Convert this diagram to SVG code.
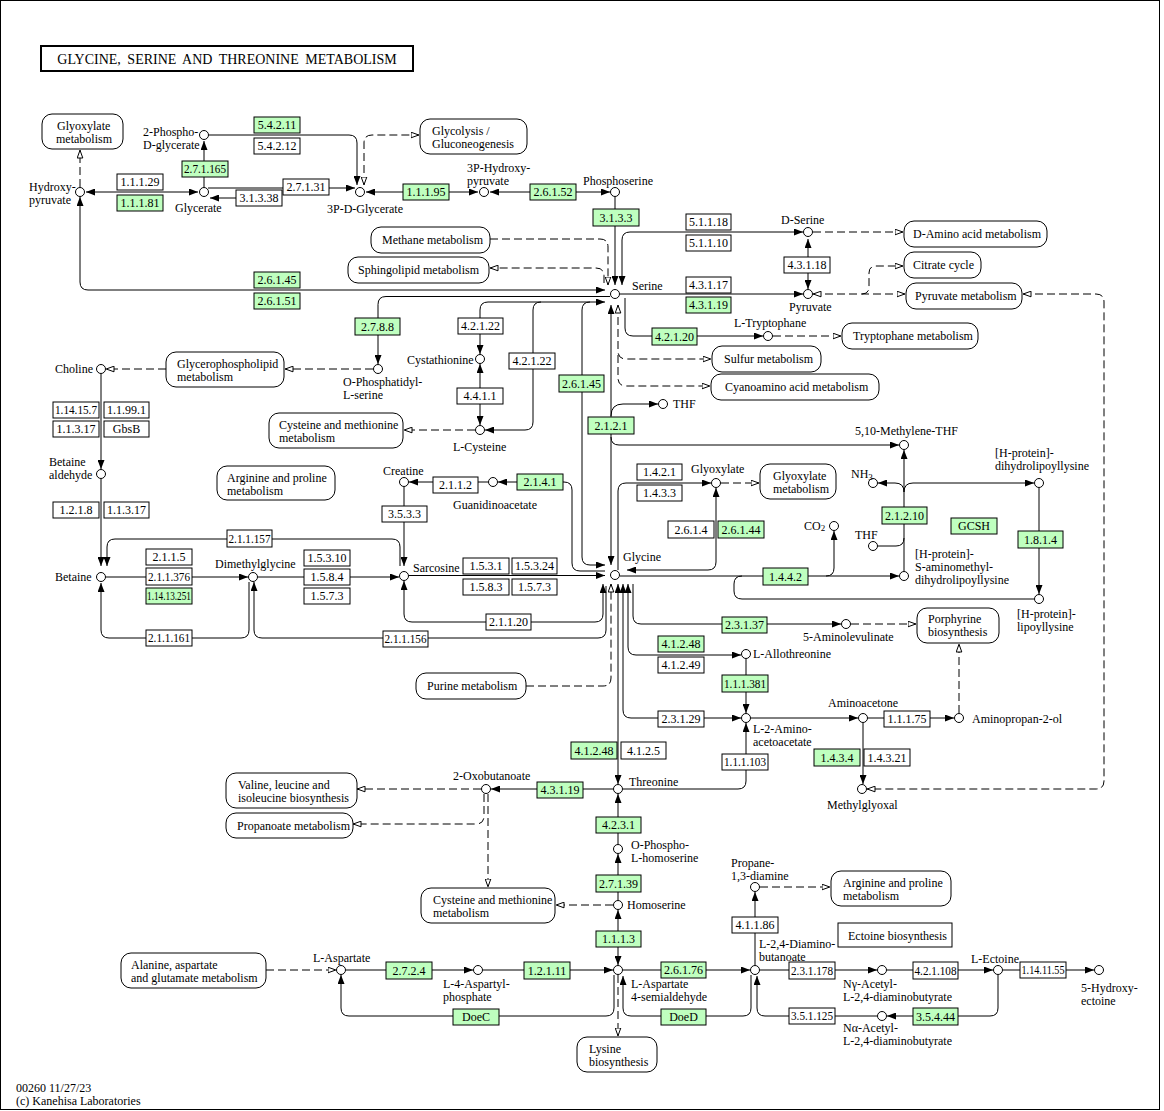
<svg xmlns="http://www.w3.org/2000/svg" width="1164" height="1111" viewBox="0 0 1164 1111">
<defs>
<style>
text{font-family:"Liberation Serif","Times New Roman",serif;font-size:12px;fill:#000}
.ttl{font-size:14px;word-spacing:3px}
.l{fill:none;stroke:#000;stroke-width:1}
.d{fill:none;stroke:#000;stroke-width:1;stroke-dasharray:8 4}
.ew{fill:#fff;stroke:#000;stroke-width:1}
.eg{fill:#bfffbf;stroke:#000;stroke-width:1}
.m{fill:#fff;stroke:#000;stroke-width:1}
.c{fill:#fff;stroke:#000;stroke-width:1}
.et{text-anchor:middle}
.sub{font-size:9px}
</style>
<marker id="af" viewBox="0 0 9 7" refX="9" refY="3.5" markerWidth="9" markerHeight="7" markerUnits="userSpaceOnUse" orient="auto-start-reverse"><path d="M0,0L9,3.5L0,7z" fill="#000" stroke="none"/></marker>
<marker id="ah" viewBox="0 0 9 7" refX="8.5" refY="3.5" markerWidth="9" markerHeight="7" markerUnits="userSpaceOnUse" orient="auto-start-reverse"><path d="M0.5,0.7L8.3,3.5L0.5,6.3z" fill="#fff" stroke="#000" stroke-width="1" stroke-dasharray="none"/></marker>
</defs>
<rect x="0" y="0" width="1164" height="1111" fill="#fff"/>
<rect x="0.5" y="0.5" width="1159" height="1109" fill="none" stroke="#000"/>
<g id="title"><rect x="41" y="46" width="372" height="25" fill="#fff" stroke="#000" stroke-width="2"/><text class="ttl" x="227" y="64" text-anchor="middle">GLYCINE, SERINE AND THREONINE METABOLISM</text></g>

<g id="connectors">
<path class="l" d="M86,192H198" marker-start="url(#af)" marker-end="url(#af)"/>
<path class="d" d="M80,187V150" marker-end="url(#ah)"/>
<path class="l" d="M204,187V141" marker-end="url(#af)"/>
<path class="l" d="M209,135H349Q357,135 357,143V185" marker-end="url(#af)"/>
<path class="d" d="M364,185V143Q364,135 372,135H419" marker-start="url(#ah)" marker-end="url(#ah)"/>
<path class="l" d="M208,188H355" marker-end="url(#af)"/>
<path class="l" d="M282,198H210" marker-end="url(#af)"/>
<path class="l" d="M366,192H478" marker-start="url(#af)" marker-end="url(#af)"/>
<path class="l" d="M490,192H610" marker-start="url(#af)" marker-end="url(#af)"/>
<path class="l" d="M615,197V285" marker-end="url(#af)"/>
<path class="l" d="M622,285V240Q622,232 630,232H803" marker-start="url(#af)" marker-end="url(#af)"/>
<path class="d" d="M813,232H903" marker-end="url(#ah)"/>
<path class="l" d="M808,239V289" marker-start="url(#af)" marker-end="url(#af)"/>
<path class="l" d="M620,294H803" marker-end="url(#af)"/>
<path class="d" d="M813,294H905" marker-start="url(#ah)" marker-end="url(#ah)"/>
<path class="d" d="M862,294Q869,294 869,287V273Q869,266 876,266H903" marker-end="url(#ah)"/>
<path class="d" d="M1023,294H1096Q1104,294 1104,302V781Q1104,789 1096,789H867" marker-start="url(#ah)" marker-end="url(#ah)"/>
<path class="d" d="M490,239H600Q608,239 608,247V285" marker-end="url(#ah)"/>
<path class="d" d="M604,283V276Q604,268 596,268H490" marker-end="url(#ah)"/>
<path class="l" d="M80,197V282Q80,290 88,290H605" marker-start="url(#af)" marker-end="url(#af)"/>
<path class="l" d="M610,296.5H386Q378,296.5 378,304.5V364" marker-end="url(#af)"/>
<path class="d" d="M373,369H285" marker-end="url(#ah)"/>
<path class="d" d="M166,369H106" marker-end="url(#ah)"/>
<path class="l" d="M101,374V469" marker-end="url(#af)"/>
<path class="l" d="M101,479V566" marker-end="url(#af)"/>
<path class="l" d="M400,566V547Q400,539 392,539H115Q107,539 107,547V566" marker-end="url(#af)"/>
<path class="l" d="M106,577H248" marker-end="url(#af)"/>
<path class="l" d="M258,577H399" marker-end="url(#af)"/>
<path class="l" d="M249,582V630Q249,638 241,638H109Q101,638 101,630V583" marker-end="url(#af)"/>
<path class="l" d="M606,586V630Q606,638 598,638H262Q254,638 254,630V582" marker-end="url(#af)"/>
<path class="l" d="M603,584V614Q603,622 595,622H412Q404,622 404,614V581" marker-start="url(#af)" marker-end="url(#af)"/>
<path class="l" d="M404,487V566" marker-end="url(#af)"/>
<path class="l" d="M488,482H409" marker-end="url(#af)"/>
<path class="l" d="M605,571H580Q572,571 572,563V490Q572,482 564,482H498" marker-end="url(#af)"/>
<path class="l" d="M605,302H488Q480,302 480,310V354" marker-start="url(#af)" marker-end="url(#af)"/>
<path class="l" d="M541,302Q533,302 533,310V422Q533,430 525,430H485" marker-end="url(#af)"/>
<path class="l" d="M590,302Q582,302 582,310V557Q582,565 590,565H605" marker-end="url(#af)"/>
<path class="l" d="M480,364V425" marker-start="url(#af)" marker-end="url(#af)"/>
<path class="d" d="M475,430H404" marker-end="url(#ah)"/>
<path class="l" d="M611,305V565" marker-start="url(#af)" marker-end="url(#af)"/>
<path class="l" d="M611,416Q611,404 623,404H658" marker-end="url(#af)"/>
<path class="l" d="M611,437Q611,445 619,445H899" marker-end="url(#af)"/>
<path class="l" d="M625,298V328Q625,336 633,336H763" marker-end="url(#af)"/>
<path class="d" d="M773,336H841" marker-end="url(#ah)"/>
<path class="d" d="M618,305V351Q618,359 626,359H711" marker-start="url(#ah)" marker-end="url(#ah)"/>
<path class="d" d="M618,355V378Q618,386 626,386H710" marker-end="url(#ah)"/>
<path class="l" d="M618,570V491Q618,483 626,483H711" marker-end="url(#af)"/>
<path class="l" d="M716,488V562Q716,570 708,570H627" marker-start="url(#af)" marker-end="url(#af)"/>
<path class="d" d="M721,483H759" marker-end="url(#ah)"/>
<path class="l" d="M620,576H899" marker-end="url(#af)"/>
<path class="l" d="M826,576Q834,576 834,568V531" marker-end="url(#af)"/>
<path class="l" d="M1034,599H742Q734,599 734,591V584Q734,576 742,576"/>
<path class="l" d="M904,571V450" marker-end="url(#af)"/>
<path class="l" d="M904,492Q904,483 895,483H878" marker-end="url(#af)"/>
<path class="l" d="M904,492Q904,483 913,483H1034" marker-end="url(#af)"/>
<path class="l" d="M878,546H896Q904,546 904,538"/>
<path class="l" d="M1039,488V594" marker-end="url(#af)"/>
<path class="l" d="M633,584V616Q633,624 641,624H841" marker-end="url(#af)"/>
<path class="d" d="M851,624H916" marker-end="url(#ah)"/>
<path class="d" d="M959,713V644" marker-end="url(#ah)"/>
<path class="l" d="M628,584V647Q628,655 636,655H741" marker-start="url(#af)" marker-end="url(#af)"/>
<path class="l" d="M623,584V710Q623,718 631,718H741" marker-start="url(#af)" marker-end="url(#af)"/>
<path class="l" d="M618,584V784" marker-start="url(#af)" marker-end="url(#af)"/>
<path class="l" d="M746,659V713" marker-end="url(#af)"/>
<path class="l" d="M623,789H738Q746,789 746,781V723" marker-end="url(#af)"/>
<path class="l" d="M751,718H858" marker-end="url(#af)"/>
<path class="l" d="M868,718H954" marker-end="url(#af)"/>
<path class="l" d="M863,723V784" marker-end="url(#af)"/>
<path class="d" d="M526,686H603Q611,686 611,678V584" marker-end="url(#ah)"/>
<path class="l" d="M409,575.5H605" marker-end="url(#af)"/>
<path class="l" d="M613,789H491" marker-end="url(#af)"/>
<path class="d" d="M481,789H357" marker-end="url(#ah)"/>
<path class="d" d="M484,794V816Q484,824 476,824H353" marker-end="url(#ah)"/>
<path class="d" d="M488,794V887" marker-end="url(#ah)"/>
<path class="l" d="M618,844V794" marker-end="url(#af)"/>
<path class="l" d="M618,900V854" marker-end="url(#af)"/>
<path class="d" d="M613,905H556" marker-end="url(#ah)"/>
<path class="l" d="M618,910V965" marker-start="url(#af)" marker-end="url(#af)"/>
<path class="l" d="M483,970H613" marker-end="url(#af)"/>
<path class="l" d="M346,970H473" marker-end="url(#af)"/>
<path class="d" d="M266,970H336" marker-end="url(#ah)"/>
<path class="l" d="M614,975V1008Q614,1016 606,1016H349Q341,1016 341,1008V975" marker-end="url(#af)"/>
<path class="d" d="M618,975V1036" marker-end="url(#ah)"/>
<path class="l" d="M751,975V1008Q751,1016 743,1016H631Q623,1016 623,1008V976" marker-end="url(#af)"/>
<path class="l" d="M623,970H750" marker-end="url(#af)"/>
<path class="l" d="M877,1016H765Q757,1016 757,1008V976" marker-end="url(#af)"/>
<path class="l" d="M755,965V892" marker-end="url(#af)"/>
<path class="d" d="M760,887H830" marker-end="url(#ah)"/>
<path class="l" d="M760,970H877" marker-end="url(#af)"/>
<path class="l" d="M887,970H993" marker-end="url(#af)"/>
<path class="l" d="M1003,970H1094" marker-end="url(#af)"/>
<path class="l" d="M998,975V1008Q998,1016 990,1016H887" marker-end="url(#af)"/>
</g>

<g id="maps">
<g id="m-glyoxylate1"><rect class="m" x="42" y="114" width="81" height="35" rx="10"/><text x="57" y="130">Glyoxylate<tspan x="56" dy="13.3">metabolism</tspan></text></g>
<g id="m-glycolysis"><rect class="m" x="420" y="119" width="107" height="35" rx="10"/><text x="432" y="135">Glycolysis /<tspan x="432" dy="13.3">Gluconeogenesis</tspan></text></g>
<g id="m-methane"><rect class="m" x="371" y="227" width="119" height="26" rx="10"/><text x="382" y="244">Methane metabolism</text></g>
<g id="m-sphingolipid"><rect class="m" x="348" y="257" width="141" height="26" rx="10"/><text x="358" y="274">Sphingolipid metabolism</text></g>
<g id="m-daminoacid"><rect class="m" x="904" y="221" width="143" height="26" rx="10"/><text x="913" y="238">D-Amino acid metabolism</text></g>
<g id="m-citrate"><rect class="m" x="904" y="252" width="77" height="26" rx="10"/><text x="913" y="269">Citrate cycle</text></g>
<g id="m-pyruvate"><rect class="m" x="906" y="283" width="116" height="26" rx="10"/><text x="915" y="300">Pyruvate metabolism</text></g>
<g id="m-tryptophane"><rect class="m" x="842" y="323" width="136" height="26" rx="10"/><text x="853" y="340">Tryptophane metabolism</text></g>
<g id="m-sulfur"><rect class="m" x="712" y="346" width="109" height="26" rx="10"/><text x="724" y="363">Sulfur metabolism</text></g>
<g id="m-cyanoamino"><rect class="m" x="711" y="374" width="168" height="26" rx="10"/><text x="725" y="391">Cyanoamino acid metabolism</text></g>
<g id="m-glycerophospholipid"><rect class="m" x="166" y="352" width="118" height="35" rx="10"/><text x="177" y="368">Glycerophospholipid<tspan x="177" dy="13.3">metabolism</tspan></text></g>
<g id="m-cysmet1"><rect class="m" x="269" y="413" width="134" height="35" rx="10"/><text x="279" y="429">Cysteine and methionine<tspan x="279" dy="13.3">metabolism</tspan></text></g>
<g id="m-argpro1"><rect class="m" x="217" y="466" width="118" height="34" rx="10"/><text x="227" y="481.5">Arginine and proline<tspan x="227" dy="13.3">metabolism</tspan></text></g>
<g id="m-glyoxylate2"><rect class="m" x="760" y="464" width="76" height="35" rx="10"/><text x="773" y="480">Glyoxylate<tspan x="773" dy="13.3">metabolism</tspan></text></g>
<g id="m-porphyrine"><rect class="m" x="917" y="608" width="82" height="35" rx="10"/><text x="928" y="623">Porphyrine<tspan x="928" dy="13.3">biosynthesis</tspan></text></g>
<g id="m-purine"><rect class="m" x="416" y="673" width="110" height="26" rx="10"/><text x="427" y="690">Purine metabolism</text></g>
<g id="m-valine"><rect class="m" x="226" y="773" width="131" height="35" rx="10"/><text x="238" y="789">Valine, leucine and<tspan x="238" dy="13.3">isoleucine biosynthesis</tspan></text></g>
<g id="m-propanoate"><rect class="m" x="226" y="813" width="127" height="25" rx="10"/><text x="237" y="830">Propanoate metabolism</text></g>
<g id="m-cysmet2"><rect class="m" x="421" y="888" width="134" height="35" rx="10"/><text x="433" y="904">Cysteine and methionine<tspan x="433" dy="13.3">metabolism</tspan></text></g>
<g id="m-argpro2"><rect class="m" x="831" y="871" width="120" height="35" rx="10"/><text x="843" y="887">Arginine and proline<tspan x="843" dy="13.3">metabolism</tspan></text></g>
<g id="m-alanine"><rect class="m" x="121" y="953" width="145" height="35" rx="10"/><text x="131" y="969">Alanine, aspartate<tspan x="131" dy="13.3">and glutamate metabolism</tspan></text></g>
<g id="m-lysine"><rect class="m" x="577" y="1037" width="80" height="35" rx="10"/><text x="589" y="1053">Lysine<tspan x="589" dy="13.3">biosynthesis</tspan></text></g>
<g id="m-ectoine"><rect class="m" x="838" y="923" width="114" height="24"/><text x="848" y="940">Ectoine biosynthesis</text></g>
</g>

<g id="enzymes">
<g><rect class="ew" x="117" y="174" width="46" height="16"/><text class="et" x="140" y="186">1.1.1.29</text></g>
<g><rect class="eg" x="117" y="195" width="46" height="16"/><text class="et" x="140" y="207">1.1.1.81</text></g>
<g><rect class="eg" x="182" y="161" width="46" height="16"/><text class="et" x="205" y="173" textLength="42" lengthAdjust="spacingAndGlyphs">2.7.1.165</text></g>
<g><rect class="eg" x="254" y="117" width="46" height="16"/><text class="et" x="277" y="129">5.4.2.11</text></g>
<g><rect class="ew" x="254" y="138" width="46" height="16"/><text class="et" x="277" y="150">5.4.2.12</text></g>
<g><rect class="ew" x="283" y="179" width="46" height="16"/><text class="et" x="306" y="191">2.7.1.31</text></g>
<g><rect class="ew" x="236" y="190" width="46" height="16"/><text class="et" x="259" y="202">3.1.3.38</text></g>
<g><rect class="eg" x="403" y="184" width="46" height="16"/><text class="et" x="426" y="196">1.1.1.95</text></g>
<g><rect class="eg" x="530" y="184" width="46" height="16"/><text class="et" x="553" y="196">2.6.1.52</text></g>
<g><rect class="eg" x="593" y="209" width="46" height="17"/><text class="et" x="616" y="221.5">3.1.3.3</text></g>
<g><rect class="ew" x="686" y="214" width="45" height="16"/><text class="et" x="708.5" y="226">5.1.1.18</text></g>
<g><rect class="ew" x="686" y="235" width="45" height="16"/><text class="et" x="708.5" y="247">5.1.1.10</text></g>
<g><rect class="ew" x="784" y="257" width="46" height="16"/><text class="et" x="807" y="269">4.3.1.18</text></g>
<g><rect class="ew" x="686" y="277" width="45" height="16"/><text class="et" x="708.5" y="289">4.3.1.17</text></g>
<g><rect class="eg" x="686" y="297" width="45" height="16"/><text class="et" x="708.5" y="309">4.3.1.19</text></g>
<g><rect class="eg" x="254" y="272" width="46" height="16"/><text class="et" x="277" y="284">2.6.1.45</text></g>
<g><rect class="eg" x="254" y="293" width="46" height="16"/><text class="et" x="277" y="305">2.6.1.51</text></g>
<g><rect class="eg" x="355" y="318" width="45" height="17"/><text class="et" x="377.5" y="330.5">2.7.8.8</text></g>
<g><rect class="ew" x="458" y="318" width="45" height="16"/><text class="et" x="480.5" y="330">4.2.1.22</text></g>
<g><rect class="ew" x="509" y="353" width="46" height="16"/><text class="et" x="532" y="365">4.2.1.22</text></g>
<g><rect class="eg" x="652" y="328" width="45" height="17"/><text class="et" x="674.5" y="340.5">4.2.1.20</text></g>
<g><rect class="ew" x="457" y="388" width="46" height="16"/><text class="et" x="480" y="400">4.4.1.1</text></g>
<g><rect class="eg" x="559" y="375" width="45" height="17"/><text class="et" x="581.5" y="387.5">2.6.1.45</text></g>
<g><rect class="eg" x="588" y="417" width="46" height="17"/><text class="et" x="611" y="429.5">2.1.2.1</text></g>
<g><rect class="ew" x="53" y="402" width="46" height="16"/><text class="et" x="76" y="414" textLength="42" lengthAdjust="spacingAndGlyphs">1.14.15.7</text></g>
<g><rect class="ew" x="104" y="402" width="45" height="16"/><text class="et" x="126.5" y="414">1.1.99.1</text></g>
<g><rect class="ew" x="53" y="421" width="46" height="16"/><text class="et" x="76" y="433">1.1.3.17</text></g>
<g><rect class="ew" x="104" y="421" width="45" height="16"/><text class="et" x="126.5" y="433">GbsB</text></g>
<g><rect class="ew" x="53" y="502" width="46" height="16"/><text class="et" x="76" y="514">1.2.1.8</text></g>
<g><rect class="ew" x="104" y="502" width="45" height="16"/><text class="et" x="126.5" y="514">1.1.3.17</text></g>
<g><rect class="ew" x="227" y="530" width="45" height="17"/><text class="et" x="249.5" y="542.5" textLength="42" lengthAdjust="spacingAndGlyphs">2.1.1.157</text></g>
<g><rect class="ew" x="146" y="549" width="46" height="16"/><text class="et" x="169" y="561">2.1.1.5</text></g>
<g><rect class="ew" x="146" y="568" width="46" height="17"/><text class="et" x="169" y="580.5" textLength="42" lengthAdjust="spacingAndGlyphs">2.1.1.376</text></g>
<g><rect class="eg" x="146" y="588" width="46" height="16"/><text class="et" x="169" y="600" textLength="44" lengthAdjust="spacingAndGlyphs">1.14.13.251</text></g>
<g><rect class="ew" x="304" y="550" width="46" height="16"/><text class="et" x="327" y="562">1.5.3.10</text></g>
<g><rect class="ew" x="304" y="569" width="46" height="16"/><text class="et" x="327" y="581">1.5.8.4</text></g>
<g><rect class="ew" x="304" y="588" width="46" height="16"/><text class="et" x="327" y="600">1.5.7.3</text></g>
<g><rect class="ew" x="146" y="630" width="46" height="16"/><text class="et" x="169" y="642" textLength="42" lengthAdjust="spacingAndGlyphs">2.1.1.161</text></g>
<g><rect class="ew" x="383" y="631" width="45" height="16"/><text class="et" x="405.5" y="643" textLength="42" lengthAdjust="spacingAndGlyphs">2.1.1.156</text></g>
<g><rect class="ew" x="486" y="614" width="45" height="16"/><text class="et" x="508.5" y="626">2.1.1.20</text></g>
<g><rect class="ew" x="433" y="477" width="45" height="16"/><text class="et" x="455.5" y="489">2.1.1.2</text></g>
<g><rect class="eg" x="517" y="474" width="46" height="16"/><text class="et" x="540" y="486">2.1.4.1</text></g>
<g><rect class="ew" x="382" y="506" width="45" height="16"/><text class="et" x="404.5" y="518">3.5.3.3</text></g>
<g><rect class="ew" x="463" y="558" width="46" height="16"/><text class="et" x="486" y="570">1.5.3.1</text></g>
<g><rect class="ew" x="512" y="558" width="45" height="16"/><text class="et" x="534.5" y="570">1.5.3.24</text></g>
<g><rect class="ew" x="463" y="579" width="46" height="16"/><text class="et" x="486" y="591">1.5.8.3</text></g>
<g><rect class="ew" x="512" y="579" width="45" height="16"/><text class="et" x="534.5" y="591">1.5.7.3</text></g>
<g><rect class="ew" x="637" y="464" width="45" height="16"/><text class="et" x="659.5" y="476">1.4.2.1</text></g>
<g><rect class="ew" x="637" y="485" width="45" height="16"/><text class="et" x="659.5" y="497">1.4.3.3</text></g>
<g><rect class="ew" x="668" y="521" width="46" height="17"/><text class="et" x="691" y="533.5">2.6.1.4</text></g>
<g><rect class="eg" x="718" y="521" width="46" height="17"/><text class="et" x="741" y="533.5">2.6.1.44</text></g>
<g><rect class="eg" x="882" y="507" width="45" height="17"/><text class="et" x="904.5" y="519.5">2.1.2.10</text></g>
<g><rect class="eg" x="951" y="518" width="46" height="16"/><text class="et" x="974" y="530">GCSH</text></g>
<g><rect class="eg" x="1018" y="531" width="45" height="17"/><text class="et" x="1040.5" y="543.5">1.8.1.4</text></g>
<g><rect class="eg" x="763" y="568" width="45" height="17"/><text class="et" x="785.5" y="580.5">1.4.4.2</text></g>
<g><rect class="eg" x="722" y="617" width="45" height="16"/><text class="et" x="744.5" y="629">2.3.1.37</text></g>
<g><rect class="eg" x="658" y="636" width="46" height="16"/><text class="et" x="681" y="648">4.1.2.48</text></g>
<g><rect class="ew" x="658" y="657" width="46" height="16"/><text class="et" x="681" y="669">4.1.2.49</text></g>
<g><rect class="eg" x="722" y="675" width="46" height="17"/><text class="et" x="745" y="687.5" textLength="42" lengthAdjust="spacingAndGlyphs">1.1.1.381</text></g>
<g><rect class="ew" x="658" y="711" width="46" height="16"/><text class="et" x="681" y="723">2.3.1.29</text></g>
<g><rect class="ew" x="884" y="711" width="46" height="16"/><text class="et" x="907" y="723">1.1.1.75</text></g>
<g><rect class="eg" x="571" y="742" width="46" height="17"/><text class="et" x="594" y="754.5">4.1.2.48</text></g>
<g><rect class="ew" x="621" y="742" width="45" height="17"/><text class="et" x="643.5" y="754.5">4.1.2.5</text></g>
<g><rect class="ew" x="722" y="754" width="46" height="16"/><text class="et" x="745" y="766" textLength="42" lengthAdjust="spacingAndGlyphs">1.1.1.103</text></g>
<g><rect class="eg" x="814" y="749" width="46" height="17"/><text class="et" x="837" y="761.5">1.4.3.4</text></g>
<g><rect class="ew" x="864" y="749" width="46" height="17"/><text class="et" x="887" y="761.5">1.4.3.21</text></g>
<g><rect class="eg" x="537" y="782" width="46" height="16"/><text class="et" x="560" y="794">4.3.1.19</text></g>
<g><rect class="eg" x="596" y="817" width="45" height="16"/><text class="et" x="618.5" y="829">4.2.3.1</text></g>
<g><rect class="eg" x="596" y="875" width="45" height="17"/><text class="et" x="618.5" y="887.5">2.7.1.39</text></g>
<g><rect class="eg" x="596" y="931" width="45" height="16"/><text class="et" x="618.5" y="943">1.1.1.3</text></g>
<g><rect class="ew" x="732" y="917" width="46" height="16"/><text class="et" x="755" y="929">4.1.1.86</text></g>
<g><rect class="eg" x="386" y="962" width="46" height="17"/><text class="et" x="409" y="974.5">2.7.2.4</text></g>
<g><rect class="eg" x="524" y="962" width="46" height="17"/><text class="et" x="547" y="974.5">1.2.1.11</text></g>
<g><rect class="eg" x="661" y="962" width="45" height="16"/><text class="et" x="683.5" y="974">2.6.1.76</text></g>
<g><rect class="ew" x="789" y="962" width="46" height="17"/><text class="et" x="812" y="974.5" textLength="42" lengthAdjust="spacingAndGlyphs">2.3.1.178</text></g>
<g><rect class="ew" x="913" y="962" width="45" height="17"/><text class="et" x="935.5" y="974.5" textLength="42" lengthAdjust="spacingAndGlyphs">4.2.1.108</text></g>
<g><rect class="ew" x="1020" y="962" width="46" height="16"/><text class="et" x="1043" y="974" textLength="43" lengthAdjust="spacingAndGlyphs">1.14.11.55</text></g>
<g><rect class="eg" x="453" y="1009" width="46" height="16"/><text class="et" x="476" y="1021">DoeC</text></g>
<g><rect class="eg" x="661" y="1009" width="45" height="16"/><text class="et" x="683.5" y="1021">DoeD</text></g>
<g><rect class="ew" x="789" y="1008" width="46" height="16"/><text class="et" x="812" y="1020" textLength="42" lengthAdjust="spacingAndGlyphs">3.5.1.125</text></g>
<g><rect class="eg" x="913" y="1008" width="45" height="17"/><text class="et" x="935.5" y="1020.5">3.5.4.44</text></g>
</g>

<g id="compounds">
<g id="c-hydroxypyruvate"><circle class="c" cx="80" cy="192" r="4.5"/><text x="29" y="190.5">Hydroxy-<tspan x="29" dy="13.3">pyruvate</tspan></text></g>
<g id="c-glycerate"><circle class="c" cx="204" cy="192" r="4.5"/><text x="175" y="212">Glycerate</text></g>
<g id="c-2pdg"><circle class="c" cx="204" cy="135" r="4.5"/><text x="143" y="136">2-Phospho-<tspan x="143" dy="13.3">D-glycerate</tspan></text></g>
<g id="c-3pdg"><circle class="c" cx="360" cy="192" r="4.5"/><text x="327" y="213">3P-D-Glycerate</text></g>
<g id="c-3php"><circle class="c" cx="484" cy="192" r="4.5"/><text x="467" y="171.5">3P-Hydroxy-<tspan x="467" dy="13.3">pyruvate</tspan></text></g>
<g id="c-phosphoserine"><circle class="c" cx="615" cy="192" r="4.5"/><text x="583" y="185">Phosphoserine</text></g>
<g id="c-serine"><circle class="c" cx="615" cy="294" r="4.5"/><text x="632" y="290">Serine</text></g>
<g id="c-dserine"><circle class="c" cx="808" cy="232" r="4.5"/><text x="781" y="224">D-Serine</text></g>
<g id="c-pyruvate"><circle class="c" cx="808" cy="294" r="4.5"/><text x="789" y="311">Pyruvate</text></g>
<g id="c-ltrp"><circle class="c" cx="768" cy="336" r="4.5"/><text x="734" y="327">L-Tryptophane</text></g>
<g id="c-ops"><circle class="c" cx="378" cy="369" r="4.5"/><text x="343" y="386">O-Phosphatidyl-<tspan x="343" dy="13.3">L-serine</tspan></text></g>
<g id="c-choline"><circle class="c" cx="101" cy="369" r="4.5"/><text x="55" y="373">Choline</text></g>
<g id="c-betald"><circle class="c" cx="101" cy="474" r="4.5"/><text x="49" y="465.5">Betaine<tspan x="49" dy="13.3">aldehyde</tspan></text></g>
<g id="c-betaine"><circle class="c" cx="101" cy="577" r="4.5"/><text x="55" y="581">Betaine</text></g>
<g id="c-dmg"><circle class="c" cx="253" cy="577" r="4.5"/><text x="215" y="568">Dimethylglycine</text></g>
<g id="c-sarcosine"><circle class="c" cx="404" cy="576" r="4.5"/><text x="413" y="572">Sarcosine</text></g>
<g id="c-cystathionine"><circle class="c" cx="480" cy="359" r="4.5"/><text x="407" y="364">Cystathionine</text></g>
<g id="c-lcysteine"><circle class="c" cx="480" cy="430" r="4.5"/><text x="453" y="451">L-Cysteine</text></g>
<g id="c-creatine"><circle class="c" cx="404" cy="482" r="4.5"/><text x="383" y="474.5">Creatine</text></g>
<g id="c-gaa"><circle class="c" cx="493" cy="482" r="4.5"/><text x="453" y="509">Guanidinoacetate</text></g>
<g id="c-glycine"><circle class="c" cx="615" cy="575" r="4.5"/><text x="623" y="560.5">Glycine</text></g>
<g id="c-glyoxylate"><circle class="c" cx="716" cy="483" r="4.5"/><text x="691" y="473">Glyoxylate</text></g>
<g id="c-thf1"><circle class="c" cx="663" cy="404" r="4.5"/><text x="673" y="408">THF</text></g>
<g id="c-mthf"><circle class="c" cx="904" cy="445" r="4.5"/><text x="855" y="434.5">5,10-Methylene-THF</text></g>
<g id="c-nh3"><circle class="c" cx="873" cy="483" r="4.5"/><text x="851" y="478">NH<tspan class="sub" dy="2">3</tspan></text></g>
<g id="c-hdl"><circle class="c" cx="1039" cy="483" r="4.5"/><text x="995" y="456.5">[H-protein]-<tspan x="995" dy="13.3">dihydrolipoyllysine</tspan></text></g>
<g id="c-thf2"><circle class="c" cx="873" cy="546" r="4.5"/><text x="855" y="539">THF</text></g>
<g id="c-co2"><circle class="c" cx="834" cy="526" r="4.5"/><text x="804" y="530">CO<tspan class="sub" dy="1">2</tspan></text></g>
<g id="c-hsa"><circle class="c" cx="904" cy="576" r="4.5"/><text x="915" y="557.5">[H-protein]-<tspan x="915" dy="13.3">S-aminomethyl-</tspan><tspan x="915" dy="13.3">dihydrolipoyllysine</tspan></text></g>
<g id="c-hll"><circle class="c" cx="1039" cy="599" r="4.5"/><text x="1017" y="618">[H-protein]-<tspan x="1017" dy="13.3">lipoyllysine</tspan></text></g>
<g id="c-ala5"><circle class="c" cx="846" cy="624" r="4.5"/><text x="803" y="641">5-Aminolevulinate</text></g>
<g id="c-allothr"><circle class="c" cx="746" cy="654" r="4.5"/><text x="753" y="658">L-Allothreonine</text></g>
<g id="c-l2aa"><circle class="c" cx="746" cy="718" r="4.5"/><text x="753" y="732.5">L-2-Amino-<tspan x="753" dy="13.3">acetoacetate</tspan></text></g>
<g id="c-aminoacetone"><circle class="c" cx="863" cy="718" r="4.5"/><text x="828" y="707">Aminoacetone</text></g>
<g id="c-aminopropanol"><circle class="c" cx="959" cy="718" r="4.5"/><text x="972" y="723">Aminopropan-2-ol</text></g>
<g id="c-methylglyoxal"><circle class="c" cx="862" cy="789" r="4.5"/><text x="827" y="809">Methylglyoxal</text></g>
<g id="c-threonine"><circle class="c" cx="618" cy="789" r="4.5"/><text x="629" y="785.5">Threonine</text></g>
<g id="c-oxobutanoate"><circle class="c" cx="486" cy="789" r="4.5"/><text x="453" y="780">2-Oxobutanoate</text></g>
<g id="c-ophs"><circle class="c" cx="618" cy="849" r="4.5"/><text x="631" y="849">O-Phospho-<tspan x="631" dy="13.3">L-homoserine</tspan></text></g>
<g id="c-homoserine"><circle class="c" cx="618" cy="905" r="4.5"/><text x="627" y="909">Homoserine</text></g>
<g id="c-lasa"><circle class="c" cx="618" cy="970" r="4.5"/><text x="631" y="988">L-Aspartate<tspan x="631" dy="13.3">4-semialdehyde</tspan></text></g>
<g id="c-lap"><circle class="c" cx="478" cy="970" r="4.5"/><text x="443" y="988">L-4-Aspartyl-<tspan x="443" dy="13.3">phosphate</tspan></text></g>
<g id="c-laspartate"><circle class="c" cx="341" cy="970" r="4.5"/><text x="313" y="962">L-Aspartate</text></g>
<g id="c-dab"><circle class="c" cx="755" cy="970" r="4.5"/><text x="759" y="947.5">L-2,4-Diamino-<tspan x="759" dy="13.3">butanoate</tspan></text></g>
<g id="c-propanediamine"><circle class="c" cx="755" cy="887" r="4.5"/><text x="731" y="866.5">Propane-<tspan x="731" dy="13.3">1,3-diamine</tspan></text></g>
<g id="c-ngacetyl"><circle class="c" cx="882" cy="970" r="4.5"/><text x="843" y="988">Nγ-Acetyl-<tspan x="843" dy="13.3">L-2,4-diaminobutyrate</tspan></text></g>
<g id="c-ectoine"><circle class="c" cx="998" cy="970" r="4.5"/><text x="971" y="963">L-Ectoine</text></g>
<g id="c-hydroxyectoine"><circle class="c" cx="1099" cy="970" r="4.5"/><text x="1081" y="992">5-Hydroxy-<tspan x="1081" dy="13.3">ectoine</tspan></text></g>
<g id="c-naacetyl"><circle class="c" cx="882" cy="1016" r="4.5"/><text x="843" y="1032">Nα-Acetyl-<tspan x="843" dy="13.3">L-2,4-diaminobutyrate</tspan></text></g>
</g>

<g id="footer"><text x="16" y="1091.5">00260 11/27/23<tspan x="16" dy="13.3">(c) Kanehisa Laboratories</tspan></text></g>
</svg>
